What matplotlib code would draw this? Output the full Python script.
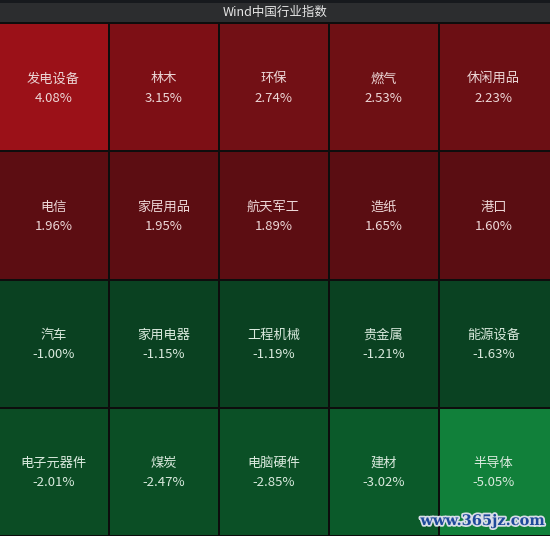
import matplotlib.pyplot as plt
import matplotlib.patheffects as pe
from matplotlib.patches import Rectangle

plt.rcParams['font.family'] = ['Noto Sans CJK SC', 'DejaVu Sans']

# industries laid out row by row, 5 per row
names = ["发电设备", "林木", "环保", "燃气", "休闲用品",
         "电信", "家居用品", "航天军工", "造纸", "港口",
         "汽车", "家用电器", "工程机械", "贵金属", "能源设备",
         "电子元器件", "煤炭", "电脑硬件", "建材", "半导体"]
changes = [4.08, 3.15, 2.74, 2.53, 2.23,
           1.96, 1.95, 1.89, 1.65, 1.60,
           -1.00, -1.15, -1.19, -1.21, -1.63,
           -2.01, -2.47, -2.85, -3.02, -5.05]

# tile colours
tile_colors = ["#9b1118", "#7d0f15", "#721015", "#6e1014", "#6c0f14",
               "#5c0d12", "#5c0d12", "#5c0d12", "#5a0d12", "#5a0d12",
               "#0a4121", "#0a4121", "#0a4121", "#0a4121", "#0a4222",
               "#0b4c24", "#0b4e25", "#0b5026", "#0b5a2a", "#11803a"]

ncols, nrows = 5, 4
W, H = 550, 536
top = 23
cw = W / ncols
ch = (H - top) / nrows
xoff = -1.5  # the reference grid sits slightly left

fig = plt.figure(figsize=(5.5, 5.36), dpi=100)
fig.patch.set_facecolor("#0d0d0d")
ax = fig.add_axes([0, 0, 1, 1])
ax.set_xlim(0, W)
ax.set_ylim(H, 0)
ax.axis("off")

# header
ax.add_patch(Rectangle((0, 0), W, 3, color="#17191d", lw=0))
ax.add_patch(Rectangle((0, 3), W, top - 4, color="#2c2d2f", lw=0))
ax.text(W / 2, 12.5, "Wind中国行业指数", color="#e6e6e6", fontsize=9,
        ha="center", va="center")

for i, (name, val) in enumerate(zip(names, changes)):
    r, c = divmod(i, ncols)
    x0 = c * cw + xoff
    x1 = (c + 1) * cw + xoff if c < ncols - 1 else W + 2
    if c == 0:
        x0 = -2
    y0 = top + r * ch
    ax.add_patch(Rectangle((x0 + 1, y0 + 1), x1 - x0 - 2, ch - 2,
                           color=tile_colors[i], lw=0))
    tc = "#ecd6d6" if val > 0 else "#d9e9dd"
    cx = c * cw + cw / 2 + xoff
    ax.text(cx, y0 + ch * 0.435, name, color=tc, fontsize=9.5,
            ha="center", va="center")
    ax.text(cx, y0 + ch * 0.585, f"{val:.2f}%", color=tc, fontsize=9.5,
            ha="center", va="center")

# watermark
ax.text(545, 521, "www.365jz.com", color="#1f4a9a", fontsize=10.5,
        family="DejaVu Serif", weight="bold", ha="right", va="center",
        path_effects=[pe.withStroke(linewidth=2.5, foreground="#d8dde8")])

fig.savefig("out.png", dpi=100, facecolor=fig.get_facecolor())
